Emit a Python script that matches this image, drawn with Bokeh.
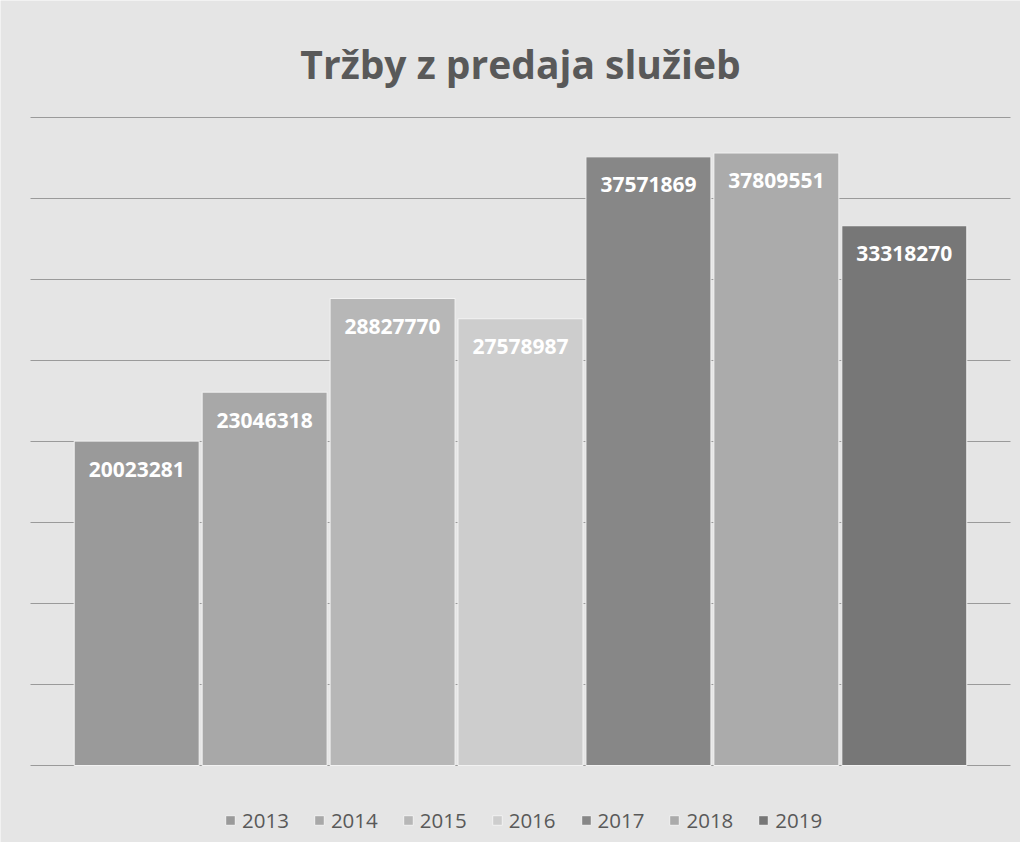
from bokeh.plotting import figure
from bokeh.models import ColumnDataSource, Label, Legend, LegendItem, Range1d
from bokeh.embed import file_html
from bokeh.resources import INLINE
from bokeh.core.properties import value

# ---- data ----
years = ["2013", "2014", "2015", "2016", "2017", "2018", "2019"]
revenues = [20023281, 23046318, 28827770, 27578987, 37571869, 37809551, 33318270]
colors = ["#9a9a9a", "#a8a8a8", "#b7b7b7", "#cdcdcd", "#878787", "#ababab", "#777777"]
title_text = "Tržby z predaja služieb"
grid_ticks = [0, 5000000, 10000000, 15000000, 20000000, 25000000, 30000000, 35000000, 40000000]

# ---- layout (pixels inside figure) ----
W, H = 1020, 842
PLOT_L, PLOT_R = 30, 1010      # plot area left/right
PLOT_T, PLOT_B = 117, 765      # plot area top (40M) / baseline (0)
X_LO, X_HI = -0.83, 6.83       # category axis extent inside plot area
Y_MAX = 40000000

px_x = (PLOT_R - PLOT_L) / (X_HI - X_LO)
px_y = (PLOT_B - PLOT_T) / Y_MAX
xr = Range1d(X_LO - PLOT_L / px_x, X_HI + (W - PLOT_R) / px_x)
yr = Range1d(-(H - PLOT_B) / px_y, Y_MAX + PLOT_T / px_y)

BG = "#e5e5e5"
positions = list(range(len(years)))
src = ColumnDataSource(dict(x=positions, top=revenues, color=colors, year=years,
                            label=[str(v) for v in revenues]))

p = figure(width=W, height=H, output_backend="svg", toolbar_location=None,
           x_range=xr, y_range=yr, min_border=0)
p.background_fill_color = BG
p.border_fill_color = BG
p.outline_line_color = None
p.xaxis.visible = False
p.yaxis.visible = False
p.grid.visible = False

# gridlines only across the plot area
p.segment(x0=[X_LO] * len(grid_ticks), x1=[X_HI] * len(grid_ticks),
          y0=grid_ticks, y1=grid_ticks, line_color="#9a9a9a", line_width=1)

r = p.vbar(x="x", top="top", width=0.977, source=src, fill_color="color",
           line_color="#f2f2f2", line_width=1)

p.text(x="x", y="top", text="label", source=src, text_color="white",
       text_font=value("Open Sans"), text_font_style="bold", text_font_size="21px",
       text_align="center", text_baseline="middle", y_offset=28)

title_y = Y_MAX + (PLOT_T - 63) / px_y
p.add_layout(Label(x=(X_LO + X_HI) / 2, y=title_y, text=title_text, text_font="Open Sans",
                   text_font_style="bold", text_font_size="39px", text_color="#595959",
                   text_align="center", text_baseline="middle"))

items = [LegendItem(label=y, renderers=[r], index=i) for i, y in enumerate(years)]
legend = Legend(items=items, orientation="horizontal", location=(224, 8),
                label_text_font="Open Sans", label_text_font_size="20.5px",
                label_text_color="#595959", glyph_width=12, glyph_height=12,
                label_standoff=6, spacing=24, background_fill_alpha=0,
                border_line_color=None, padding=0, margin=0)
p.add_layout(legend)

open("out.html", "w").write(file_html(p, INLINE))
